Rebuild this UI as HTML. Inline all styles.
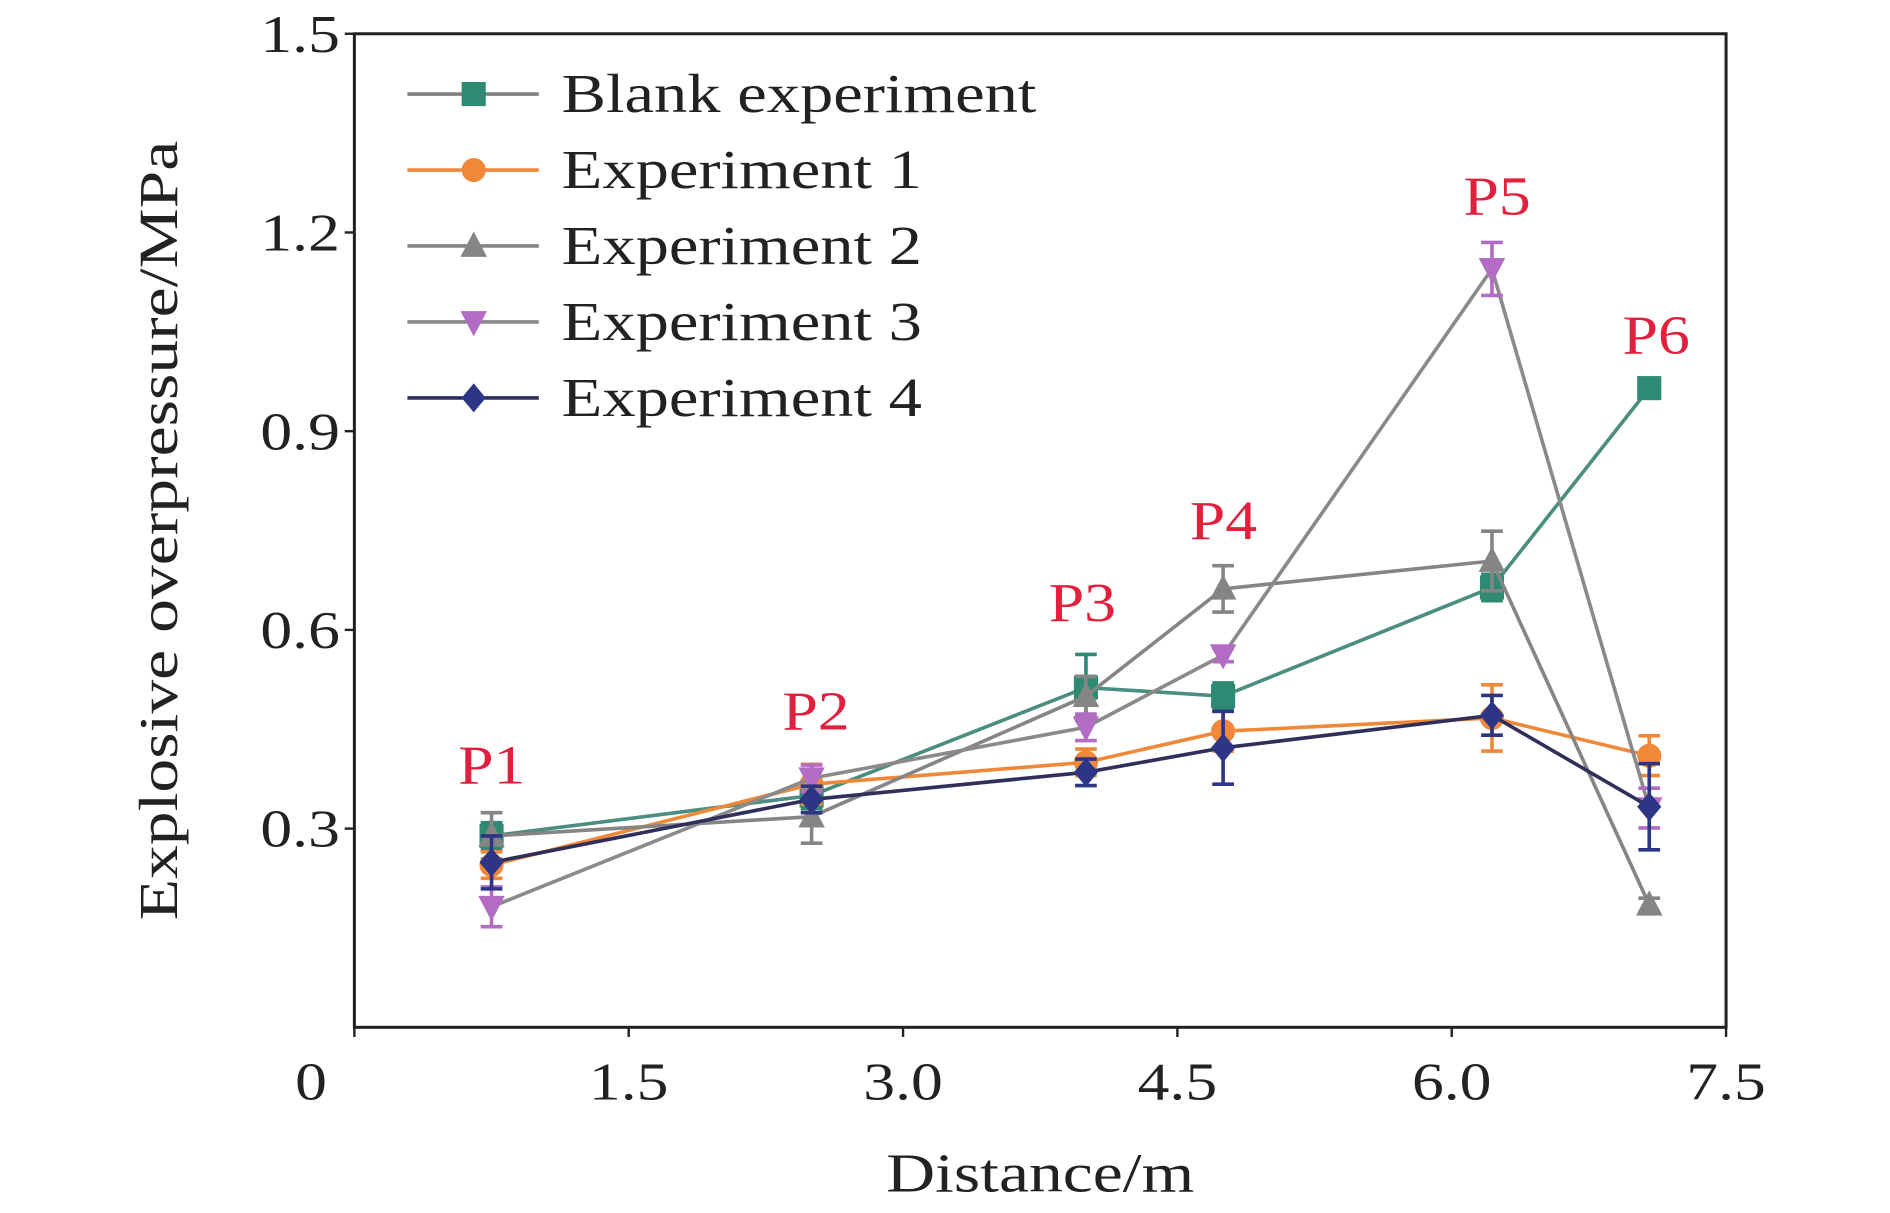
<!DOCTYPE html>
<html><head><meta charset="utf-8"><style>
html,body{margin:0;padding:0;background:#fff}
svg{display:block}
text{font-family:"Liberation Serif",serif}
</style></head><body>
<svg id="chart" width="1890" height="1213" viewBox="0 0 1568 1006" preserveAspectRatio="none" xmlns="http://www.w3.org/2000/svg">
<rect width="1568" height="1006" fill="#fff"/>
<g id="plot"></g>
</svg>
<script>
const xVals = [0.75, 2.5, 4.0, 4.75, 6.22, 7.08];
const pointLabels = ["P1","P2","P3","P4","P5","P6"];
const blankVals = [0.289, 0.35, 0.513, 0.50, 0.664, 0.965];
const blankErr = [0.02, 0.02, 0.05, 0.02, 0.02, 0.01];
const exp1Vals = [0.245, 0.367, 0.40, 0.447, 0.467, 0.41];
const exp1Err = [0.02, 0.03, 0.02, 0.03, 0.05, 0.03];
const exp2Vals = [0.289, 0.318, 0.50, 0.662, 0.704, 0.185];
const exp2Err = [0.035, 0.04, 0.03, 0.035, 0.045, 0.01];
const exp3Vals = [0.182, 0.376, 0.453, 0.562, 1.145, 0.331];
const exp3Err = [0.03, 0.02, 0.02, 0.01, 0.04, 0.03];
const exp4Vals = [0.249, 0.344, 0.385, 0.422, 0.471, 0.333];
const exp4Err = [0.04, 0.02, 0.02, 0.055, 0.03, 0.065];
const xTicks = [0, 1.5, 3.0, 4.5, 6.0, 7.5];
const xTickLabels = ["0","1.5","3.0","4.5","6.0","7.5"];
const yTicks = [0.3, 0.6, 0.9, 1.2, 1.5];
const yTickLabels = ["0.3","0.6","0.9","1.2","1.5"];

const L=294,R=1432,T=28,B=852;
const X=v=>L+(v/7.5)*(R-L);
const Y=v=>B-(v/1.5)*(B-T);
const NS="http://www.w3.org/2000/svg";
const g=document.getElementById('plot');
function mk(tag,attrs,parent){const e=document.createElementNS(NS,tag);for(const k in attrs)e.setAttribute(k,attrs[k]);(parent||g).appendChild(e);return e;}
function stretch(t,f){const w=t.getComputedTextLength();t.setAttribute('textLength',w*f);t.setAttribute('lengthAdjust','spacingAndGlyphs');}

let fr=mk('rect',{x:L,y:T,width:R-L,height:B-T,fill:'none',stroke:'#222','stroke-width':2.5});


xTicks.forEach((v,i)=>{
  mk('line',{x1:X(v),x2:X(v),y1:B,y2:B+8,stroke:'#222','stroke-width':2});
  const t=mk('text',{x:(v===0?X(v)-36:X(v)),y:B+60,'font-size':44,'text-anchor':'middle',fill:'#222'});
  t.textContent=xTickLabels[i];
  
  
  stretch(t,1.2);
});
yTicks.forEach((v,i)=>{
  mk('line',{x1:L-8,x2:L,y1:Y(v),y2:Y(v),stroke:'#222','stroke-width':2});
  const t=mk('text',{x:L-12,y:Y(v)+15,'font-size':44,'text-anchor':'end',fill:'#222'});
  t.textContent=yTickLabels[i];
  
  
  stretch(t,1.2);
});
let xt=mk('text',{x:863,y:988,'font-size':46,'text-anchor':'middle',fill:'#222'});
xt.textContent='Distance/m';


stretch(xt,1.22);
let yt=mk('text',{x:0,y:0,'font-size':46,'text-anchor':'middle',fill:'#222',transform:'translate(147,440) rotate(-90)'});
yt.textContent='Explosive overpressure/MPa';


stretch(yt,1.22);

function marker(type,x,y,color,parent){
  const s=10;
  if(type==='square') return mk('rect',{x:x-s,y:y-s,width:2*s,height:2*s,fill:color},parent);
  if(type==='circle') return mk('circle',{cx:x,cy:y,r:s,fill:color},parent);
  if(type==='tri') return mk('polygon',{points:`${x},${y-12} ${x-11},${y+9} ${x+11},${y+9}`,fill:color},parent);
  if(type==='itri') return mk('polygon',{points:`${x},${y+12} ${x-11},${y-9} ${x+11},${y-9}`,fill:color},parent);
  return mk('polygon',{points:`${x},${y-12} ${x+10},${y} ${x},${y+12} ${x-10},${y}`,fill:color},parent);
}
const series=[
 {name:'blank-experiment',label:'Blank experiment',vals:blankVals,err:blankErr,line:'#4b8e7f',mc:'#2e8a72',m:'square',leg:'#808080'},
 {name:'experiment-1',label:'Experiment 1',vals:exp1Vals,err:exp1Err,line:'#f0883a',mc:'#f0883a',m:'circle',leg:'#f0883a'},
 {name:'experiment-2',label:'Experiment 2',vals:exp2Vals,err:exp2Err,line:'#858585',mc:'#858585',m:'tri',leg:'#858585'},
 {name:'experiment-3',label:'Experiment 3',vals:exp3Vals,err:exp3Err,line:'#8a8a8a',mc:'#b36cc4',m:'itri',leg:'#8a8a8a'},
 {name:'experiment-4',label:'Experiment 4',vals:exp4Vals,err:exp4Err,line:'#2f2f5a',mc:'#2d3585',m:'diamond',leg:'#2f2f5a'}
];
series.forEach((s,si)=>{
  const sg=mk('g',{});
  
  
  const pl=mk('polyline',{points:s.vals.map((v,i)=>X(xVals[i])+','+Y(v)).join(' '),fill:'none',stroke:s.line,'stroke-width':3},sg);
  
  
  s.vals.forEach((v,i)=>{
    const x=X(xVals[i]),e=s.err[i];
    const eb=mk('path',{d:`M${x},${Y(v-e)}V${Y(v+e)}M${x-9},${Y(v-e)}H${x+9}M${x-9},${Y(v+e)}H${x+9}`,stroke:s.mc,'stroke-width':3,fill:'none'},sg);
    
    
    const m=marker(s.m,x,Y(v),s.mc,sg);
    
    
  });
  const ly=78+si*63;
  const lg=mk('g',{});
  
  
  mk('line',{x1:338,x2:447,y1:ly,y2:ly,stroke:s.leg,'stroke-width':3},lg);
  marker(s.m,393,ly,s.mc,lg);
  const t=mk('text',{x:466,y:ly+15,'font-size':46,fill:'#222'},lg);
  t.textContent=s.label;
  stretch(t,1.2);
});
const plPos=[[408,650],[677,605],[898,515],[1015,447],[1242,178],[1374,293]];
pointLabels.forEach((p,i)=>{
  const t=mk('text',{x:plPos[i][0],y:plPos[i][1],'font-size':46,'text-anchor':'middle',fill:'#e0203c'});
  t.textContent=p;
  
  
  stretch(t,1.15);
});
</script>
</body></html>
